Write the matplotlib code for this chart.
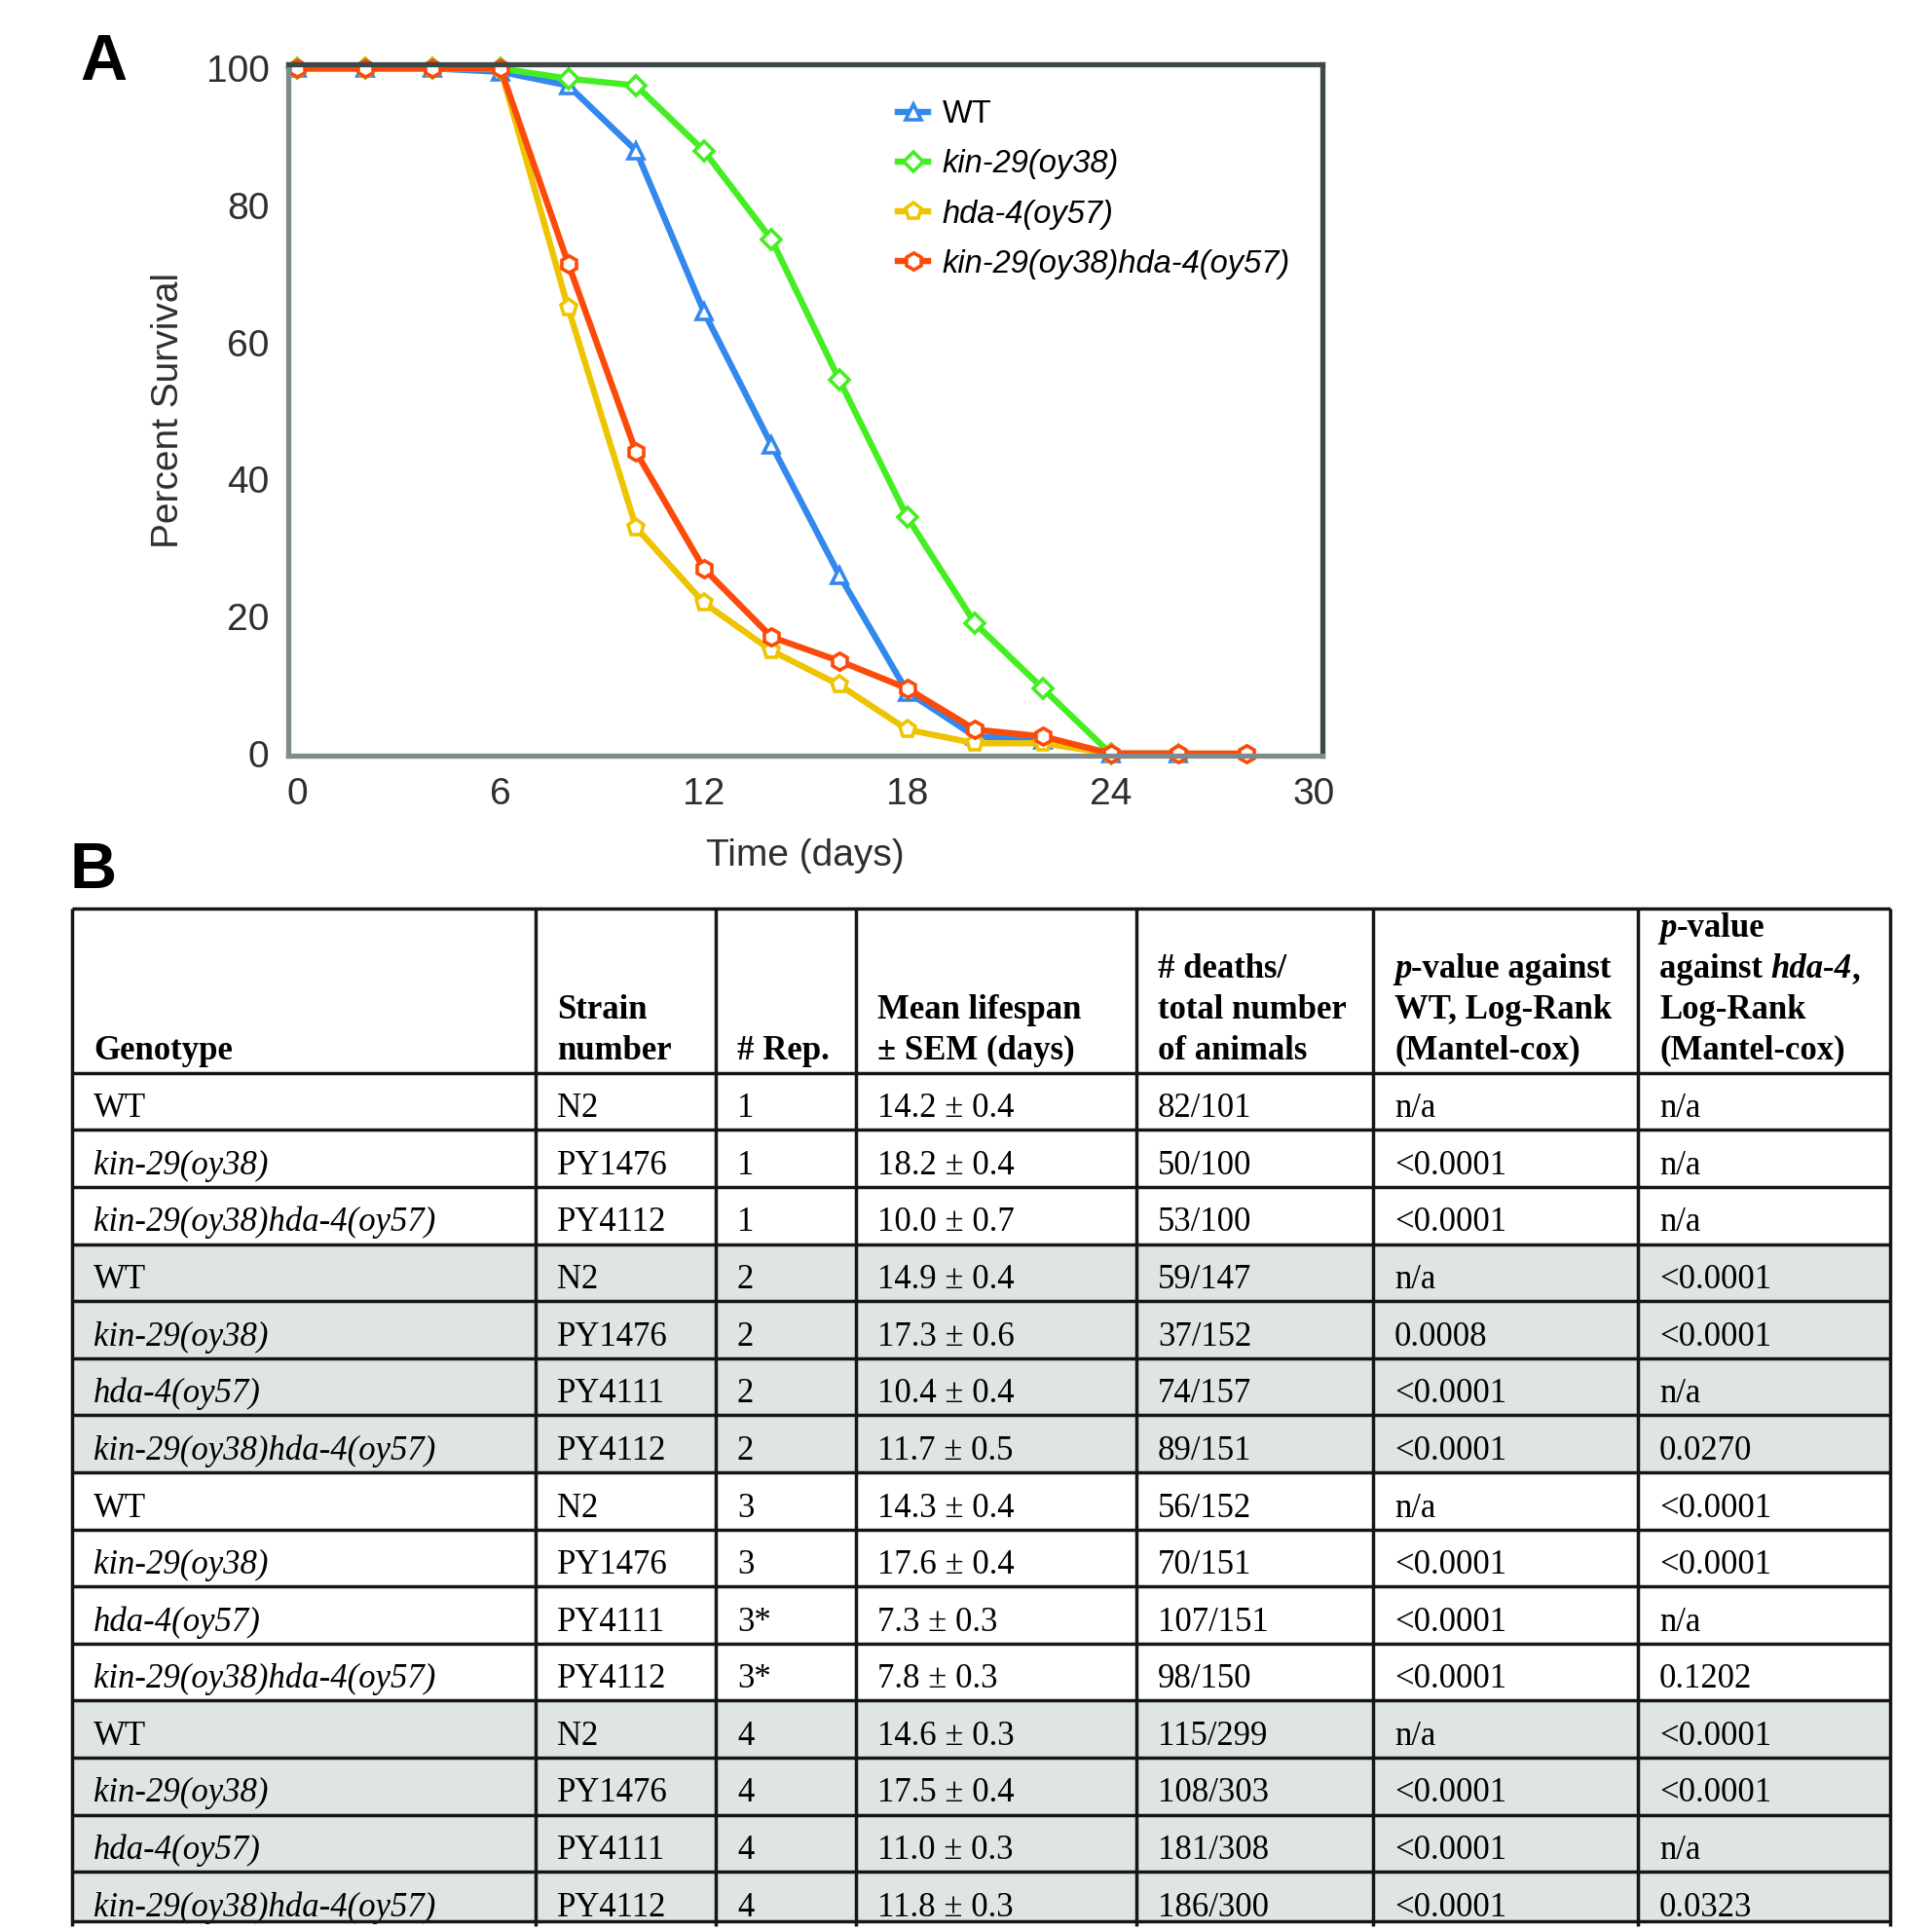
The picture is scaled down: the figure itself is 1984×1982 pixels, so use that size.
import matplotlib
matplotlib.use('Agg')
import matplotlib.pyplot as plt
from matplotlib.patches import Rectangle
from matplotlib.lines import Line2D

# ---- panel A data (percent survival) ----
days_wt = [0, 2, 4, 6, 8, 10, 12, 14, 16, 18, 20, 22, 24, 26]
wt = [100, 100, 100, 99.5, 97.5, 88, 64.5, 45, 26, 9, 2.5, 2, 0, 0]
days_kin = [0, 2, 4, 6, 8, 10, 12, 14, 16, 18, 20, 22, 24]
kin29 = [100, 100, 100, 100, 98.5, 97.5, 88, 75, 54.5, 34.5, 19, 9.5, 0]
days_hda = [0, 2, 4, 6, 8, 10, 12, 14, 16, 18, 20, 22, 24, 26]
hda4 = [100, 100, 100, 100, 65, 33, 22, 15, 10, 3.5, 1.5, 1.5, 0, 0]
days_dbl = [0, 2, 4, 6, 8, 10, 12, 14, 16, 18, 20, 22, 24, 26, 28]
double = [100, 100, 100, 100, 71.5, 44, 27, 17, 13.5, 9.5, 3.5, 2.5, 0, 0, 0]

series_labels = ['WT', 'kin-29(oy38)', 'hda-4(oy57)', 'kin-29(oy38)hda-4(oy57)']
series_colors = ['#3388ee', '#44ee22', '#eec400', '#fc4a0a']
series_markers = ['^', 'D', 'p', 'h']
marker_sizes = [12, 10, 12.5, 12.5]

x_ticks = [0, 6, 12, 18, 24, 30]
y_ticks = [0, 20, 40, 60, 80, 100]

# ---- panel B table ----
header = [
    [[('Genotype', 'bold', 'normal')]],
    [[('Strain', 'bold', 'normal')], [('number', 'bold', 'normal')]],
    [[('# Rep.', 'bold', 'normal')]],
    [[('Mean lifespan', 'bold', 'normal')], [('± SEM (days)', 'bold', 'normal')]],
    [[('# deaths/', 'bold', 'normal')], [('total number', 'bold', 'normal')],
     [('of animals', 'bold', 'normal')]],
    [[('p', 'bold', 'italic'), ('-value against', 'bold', 'normal')],
     [('WT, Log-Rank', 'bold', 'normal')], [('(Mantel-cox)', 'bold', 'normal')]],
    [[('p', 'bold', 'italic'), ('-value', 'bold', 'normal')],
     [('against ', 'bold', 'normal'), ('hda-4', 'bold', 'italic'), (',', 'bold', 'normal')],
     [('Log-Rank', 'bold', 'normal')], [('(Mantel-cox)', 'bold', 'normal')]],
]

genotype = ['WT', 'kin-29(oy38)', 'kin-29(oy38)hda-4(oy57)',
            'WT', 'kin-29(oy38)', 'hda-4(oy57)', 'kin-29(oy38)hda-4(oy57)',
            'WT', 'kin-29(oy38)', 'hda-4(oy57)', 'kin-29(oy38)hda-4(oy57)',
            'WT', 'kin-29(oy38)', 'hda-4(oy57)', 'kin-29(oy38)hda-4(oy57)']
strain = ['N2', 'PY1476', 'PY4112',
          'N2', 'PY1476', 'PY4111', 'PY4112',
          'N2', 'PY1476', 'PY4111', 'PY4112',
          'N2', 'PY1476', 'PY4111', 'PY4112']
rep = ['1', '1', '1', '2', '2', '2', '2', '3', '3', '3*', '3*', '4', '4', '4', '4']
mean_sem = ['14.2 ± 0.4', '18.2 ± 0.4', '10.0 ± 0.7',
            '14.9 ± 0.4', '17.3 ± 0.6', '10.4 ± 0.4', '11.7 ± 0.5',
            '14.3 ± 0.4', '17.6 ± 0.4', '7.3 ± 0.3', '7.8 ± 0.3',
            '14.6 ± 0.3', '17.5 ± 0.4', '11.0 ± 0.3', '11.8 ± 0.3']
deaths = ['82/101', '50/100', '53/100',
          '59/147', '37/152', '74/157', '89/151',
          '56/152', '70/151', '107/151', '98/150',
          '115/299', '108/303', '181/308', '186/300']
p_wt = ['n/a', '<0.0001', '<0.0001',
        'n/a', '0.0008', '<0.0001', '<0.0001',
        'n/a', '<0.0001', '<0.0001', '<0.0001',
        'n/a', '<0.0001', '<0.0001', '<0.0001']
p_hda = ['n/a', 'n/a', 'n/a',
         '<0.0001', '<0.0001', 'n/a', '0.0270',
         '<0.0001', '<0.0001', 'n/a', '0.1202',
         '<0.0001', '<0.0001', 'n/a', '0.0323']

SANS = 'Liberation Sans'
SERIF = 'Liberation Serif'
TXT = '#2b2f2f'

fig = plt.figure(figsize=(19.84, 19.82), dpi=100)

# full-figure axes in pixel units, used for the table and panel letters
tab = fig.add_axes([0, 0, 1, 1])
tab.set_xlim(0, 1984)
tab.set_ylim(1982, 0)
tab.axis('off')
tab.patch.set_visible(False)

tab.text(82, 82, 'A', fontsize=48, fontweight='bold', family=SANS, va='baseline')
tab.text(72, 912, 'B', fontsize=48, fontweight='bold', family=SANS, va='baseline')

# ---- survival plot ----
ax = fig.add_axes([0.1492, 0.6085, 0.5355, 0.3582])
all_days = [days_wt, days_kin, days_hda, days_dbl]
all_vals = [wt, kin29, hda4, double]
for d, v, lab, c, m, ms in zip(all_days, all_vals, series_labels, series_colors,
                               series_markers, marker_sizes):
    ax.plot(d, v, color=c, lw=4.6, marker=m, markersize=ms, mfc='white', mec=c,
            mew=2.6, label=lab, clip_on=False)

ax.set_xlim(-0.26, 30.26)
ax.set_ylim(-0.3, 100.6)
ax.set_xticks(x_ticks)
ax.set_yticks(y_ticks)
ax.tick_params(length=0, labelsize=28, labelcolor=TXT)
ax.tick_params(axis='x', pad=16)
ax.tick_params(axis='y', pad=14)
for lbl in ax.get_xticklabels() + ax.get_yticklabels():
    lbl.set_family(SANS)
ax.set_xlabel('Time (days)', fontsize=28, family=SANS, color=TXT, labelpad=19)
ax.set_ylabel('Percent Survival', fontsize=28, family=SANS, color=TXT, labelpad=15)
for side in ['top', 'right']:
    ax.spines[side].set_color('#3f4848')
    ax.spines[side].set_linewidth(3.8)
for side in ['left', 'bottom']:
    ax.spines[side].set_color('#7f8b8b')
    ax.spines[side].set_linewidth(3.8)

handles = [Line2D([], [], color=c, lw=4.6, marker=m, markersize=ms, mfc='white',
                  mec=c, mew=2.6)
           for c, m, ms in zip(series_colors, series_markers, marker_sizes)]
leg = ax.legend(handles, series_labels, loc='upper left', bbox_to_anchor=(0.574, 0.972),
                frameon=False, handlelength=0.95, handletextpad=0.45, labelspacing=0.62,
                borderpad=0, prop={'family': SANS, 'size': 23.5})
for t in leg.get_texts()[1:]:
    t.set_fontstyle('italic')

# ---- table ----
col_edges = [74, 550, 735, 879, 1167, 1410, 1682, 1941]
table_top = 933
header_bottom = 1101.7
row_h = 58.6
table_bottom = 1973
n_rows = len(genotype)
pad_x = 22
fs = 25
line_w = 2.5
line_c = '#161616'

row_tops = [header_bottom + i * row_h for i in range(n_rows)]
row_bots = row_tops[1:] + [table_bottom]
for i in range(n_rows):
    if rep[i].rstrip('*') in ('2', '4'):
        tab.add_patch(Rectangle((col_edges[0], row_tops[i]), col_edges[-1] - col_edges[0],
                                row_bots[i] - row_tops[i], facecolor='#dfe4e4',
                                edgecolor='none', zorder=1))

tab.hlines([table_top, header_bottom] + row_bots, col_edges[0], col_edges[-1],
           colors=line_c, lw=line_w, zorder=3)
tab.vlines(col_edges, table_top, table_bottom + 5, colors=line_c, lw=line_w, zorder=3)

renderer = fig.canvas.get_renderer()


def advance(s, weight, style):
    t1 = tab.text(0, 0, s + 'x', fontsize=fs, family=SERIF, fontweight=weight, fontstyle=style)
    t2 = tab.text(0, 0, 'x', fontsize=fs, family=SERIF, fontweight=weight, fontstyle=style)
    w = t1.get_window_extent(renderer).width - t2.get_window_extent(renderer).width
    t1.remove()
    t2.remove()
    return w


line_step = 42
for c, lines in enumerate(header):
    n = len(lines)
    for k, runs in enumerate(lines):
        y = header_bottom - 14 - (n - 1 - k) * line_step
        x = col_edges[c] + pad_x
        for s, weight, style in runs:
            tab.text(x, y, s, fontsize=fs, family=SERIF, fontweight=weight,
                     fontstyle=style, va='baseline', ha='left', zorder=4)
            x += advance(s, weight, style)

columns = [genotype, strain, rep, mean_sem, deaths, p_wt, p_hda]
for i in range(n_rows):
    y = row_tops[i] + row_h - 13
    for c, col in enumerate(columns):
        style = 'italic' if (c == 0 and col[i] != 'WT') else 'normal'
        tab.text(col_edges[c] + pad_x, y, col[i], fontsize=fs, family=SERIF,
                 fontstyle=style, va='baseline', ha='left', zorder=2)

fig.savefig('out.png', dpi=100)
